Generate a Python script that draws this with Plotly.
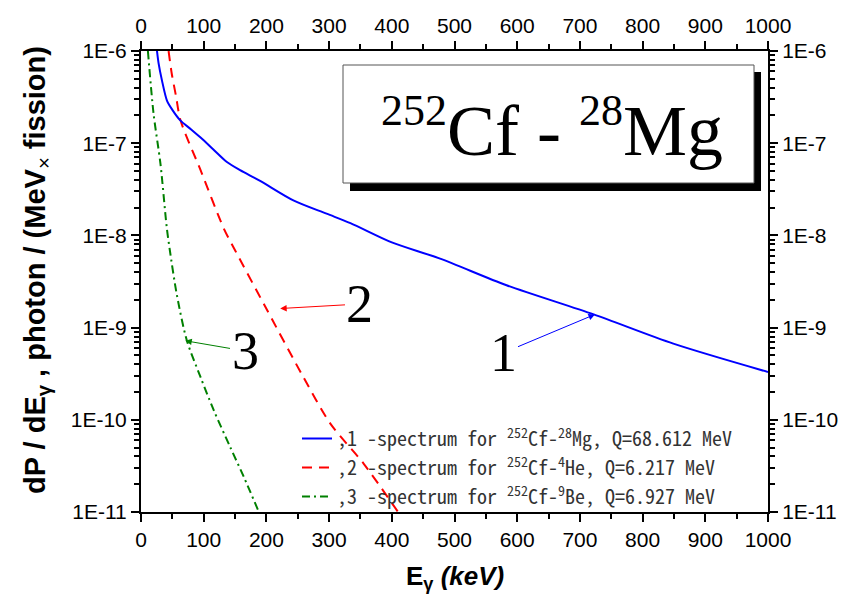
import math
import plotly.graph_objects as go

# ---------------- data ----------------
x_mg = [25.5, 28, 33.4, 41.4, 50, 62.6, 80, 95, 115, 137, 158, 190, 243, 296, 334, 400,
        477, 583, 722, 849, 1000]
y_mg = [1.0e-6, 7.4e-7, 4.8e-7, 2.9e-7, 2.3e-7, 1.77e-7, 1.41e-7, 1.15e-7, 8.6e-8, 6.25e-8,
        5.1e-8, 3.9e-8, 2.4e-8, 1.72e-8, 1.36e-8, 8.4e-9, 5.6e-9, 2.88e-9, 1.39e-9,
        6.7e-10, 3.3e-10]
x_he = [44, 49, 56, 63, 95, 132, 150, 200, 259, 302, 355, 410]
y_he = [1.0e-6, 5.7e-7, 3.2e-7, 1.77e-7, 5.1e-8, 1.19e-8, 6.9e-9, 1.6e-9, 2.9e-10,
        9.1e-11, 3.35e-11, 1.0e-11]
x_be = [11, 20, 31, 41, 46, 57, 73, 95, 116, 142, 164, 188]
y_be = [1.0e-6, 2.1e-7, 6.0e-8, 1.23e-8, 6.9e-9, 2.3e-9, 7.3e-10, 2.9e-10, 1.27e-10,
        5.1e-11, 2.4e-11, 1.0e-11]

series_names = [
    ",1 -spectrum for <sup>252</sup>Cf-<sup>28</sup>Mg, Q=68.612 MeV",
    ",2 -spectrum for <sup>252</sup>Cf-<sup>4</sup>He, Q=6.217 MeV",
    ",3 -spectrum for <sup>252</sup>Cf-<sup>9</sup>Be, Q=6.927 MeV",
]
x_range = [0, 1000]
y_range_log = [-11, -6]
x_tick_vals = [0, 100, 200, 300, 400, 500, 600, 700, 800, 900, 1000]
y_tick_vals = [1e-11, 1e-10, 1e-9, 1e-8, 1e-7, 1e-6]
y_tick_text = ["1E-11", "1E-10", "1E-9", "1E-8", "1E-7", "1E-6"]

# arrow labels: (label, tip x, tip y, colour)
arrow_labels = [("1", 724, 1.39e-9, "blue"), ("2", 222, 1.61e-9, "red"), ("3", 70.6, 7.2e-10, "green")]

# ---------------- layout geometry ----------------
W, H = 847, 600
L, R, T, B = 141, 79, 51, 88
PW, PH = W - L - R, H - T - B


def px(x):
    return (x - L) / PW


def py(y):
    return (H - B - y) / PH


def xfrac(v):
    return (v - x_range[0]) / (x_range[1] - x_range[0])


def yfrac(v):
    return (math.log10(v) - y_range_log[0]) / (y_range_log[1] - y_range_log[0])


TICKFONT = dict(family="Arial, Liberation Sans", size=21, color="black")

fig = go.Figure()
fig.add_trace(go.Scatter(x=x_mg, y=y_mg, mode="lines", name=series_names[0],
                         xaxis="x2", yaxis="y2",
                         line=dict(color="blue", width=2, shape="spline", smoothing=0.8),
                         legendgroup="a"))
fig.add_trace(go.Scatter(x=x_he, y=y_he, mode="lines", name=series_names[1],
                         line=dict(color="red", width=2, dash="10px,7px", shape="spline", smoothing=0.8),
                         legendgroup="b"))
fig.add_trace(go.Scatter(x=x_be, y=y_be, mode="lines", name=series_names[2],
                         line=dict(color="green", width=2, dash="8px,4px,2px,4px", shape="spline",
                                   smoothing=0.8),
                         legendgroup="c"))

axis_common = dict(showline=True, linecolor="black", linewidth=2, ticks="outside",
                   tickcolor="black", tickwidth=2, ticklen=8, showgrid=False, zeroline=False,
                   tickfont=TICKFONT, automargin=False, layer="above traces")
xminor = dict(dtick=50, ticklen=5, ticks="outside", tickcolor="black", tickwidth=2)
yminor = dict(tickmode="linear", dtick="D1", ticklen=5, ticks="outside", tickcolor="black",
              tickwidth=1.5)

fig.update_layout(
    template="none",
    width=W, height=H,
    margin=dict(l=L, r=R, t=T, b=B, autoexpand=False),
    paper_bgcolor="white", plot_bgcolor="white",
    showlegend=True,
    legend=dict(x=px(297), y=py(419), xanchor="left", yanchor="top",
                bgcolor="rgba(0,0,0,0)", borderwidth=0, tracegroupgap=0,
                traceorder="grouped",
                font=dict(family="Noto Sans Mono CJK SC, Liberation Mono, monospace", size=20, color="#333")),
    xaxis=dict(range=x_range, tickmode="array", tickvals=x_tick_vals, anchor="y",
               minor=xminor, **axis_common),
    xaxis2=dict(range=x_range, tickmode="array", tickvals=x_tick_vals,
                overlaying="x", side="top", anchor="y2", minor=xminor, **axis_common),
    yaxis=dict(type="log", range=y_range_log, tickmode="array", tickvals=y_tick_vals,
               ticktext=y_tick_text, anchor="x", minor=yminor, **axis_common),
    yaxis2=dict(type="log", range=y_range_log, tickmode="array", tickvals=y_tick_vals,
                ticktext=y_tick_text, overlaying="y", side="right", anchor="x2",
                minor=yminor, **axis_common),
)

# title box with shadow
fig.add_shape(type="rect", xref="paper", yref="paper", x0=px(350), x1=px(761), y0=py(191), y1=py(72),
              fillcolor="black", line=dict(width=0), layer="above")
fig.add_shape(type="rect", xref="paper", yref="paper", x0=px(343), x1=px(754), y0=py(183), y1=py(65),
              fillcolor="white", line=dict(color="#555555", width=1), layer="above")

fig.add_annotation(xref="paper", yref="paper", x=px(552), y=py(128), xanchor="center", yanchor="middle",
                   showarrow=False,
                   text="<sup><span style='font-size:44px'>252</span></sup>Cf - "
                        "<sup><span style='font-size:44px'>28</span></sup>Mg",
                   font=dict(family="Times New Roman, Liberation Serif, serif", size=72, color="black"))

# curve labels with arrows
label_pos = {"1": (503, 353), "2": (360, 304), "3": (245, 351)}
for lab, tx, ty, col in arrow_labels:
    tip_px = (L + xfrac(tx) * PW, T + (1 - yfrac(ty)) * PH)
    lx, ly = label_pos[lab]
    fig.add_annotation(x=tx, y=math.log10(ty), xref="x", yref="y", text=lab,
                       showarrow=True, axref="pixel", ayref="pixel",
                       ax=lx - tip_px[0], ay=ly - tip_px[1],
                       arrowhead=2, arrowsize=1.3, arrowwidth=1, arrowcolor=col,
                       font=dict(family="Times New Roman, Liberation Serif, serif", size=54, color="black"))

# axis titles
fig.add_annotation(xref="paper", yref="paper", x=px(37), y=py(270), textangle=-90,
                   showarrow=False, xanchor="center", yanchor="middle",
                   text="<b>dP / dE</b><sub><b>γ</b></sub><b> , photon / (MeV</b><sub>×</sub><b> fission)</b>",
                   font=dict(family="Arial, Liberation Sans", size=29, color="black"))
fig.add_annotation(xref="paper", yref="paper", x=px(455), y=py(577),
                   showarrow=False, xanchor="center", yanchor="middle",
                   text="<b>E</b><sub><b>γ</b></sub><b><i> (keV)</i></b>",
                   font=dict(family="Arial, Liberation Sans", size=26, color="black"))

fig.write_html("out.html")
